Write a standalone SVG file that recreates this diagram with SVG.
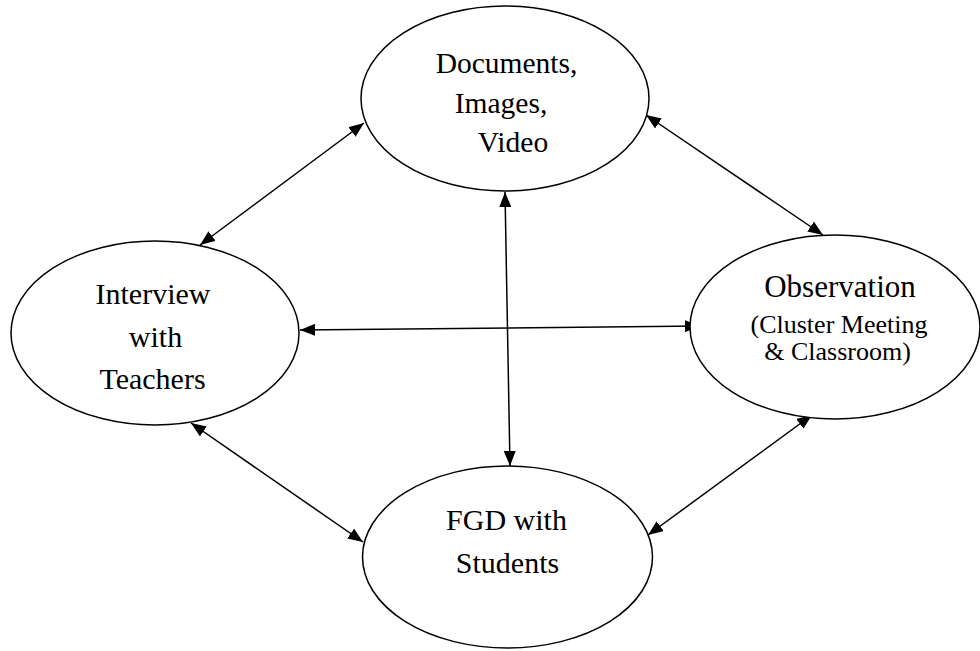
<svg xmlns="http://www.w3.org/2000/svg" width="980" height="651" viewBox="0 0 980 651">
<style>
.node ellipse{fill:#fff;stroke:#000;stroke-width:1.5}
.node text{font-family:"Liberation Serif","Times New Roman",serif;fill:#000;text-anchor:middle}
.big{font-size:30px}
.small{font-size:26px}
#connectors line{stroke:#000;stroke-width:1.5;marker-start:url(#ah);marker-end:url(#ah)}
</style>
<defs>
<marker id="ah" markerUnits="userSpaceOnUse" markerWidth="16" markerHeight="12" refX="15" refY="6" orient="auto-start-reverse" viewBox="0 0 16 12">
<path d="M0,0 L15,6 L0,12 z" fill="#000"/>
</marker>
</defs>
<rect width="980" height="651" fill="#fff"/>
<g id="connectors">
<line x1="364" y1="123" x2="200" y2="245"/>
<line x1="646" y1="115" x2="823" y2="235"/>
<line x1="191" y1="423" x2="363" y2="542"/>
<line x1="812" y1="415" x2="648" y2="535"/>
<line x1="300" y1="330" x2="700" y2="326"/>
<line x1="505" y1="192" x2="510" y2="466"/>
</g>
<g id="documents" class="node">
<ellipse cx="505" cy="98.5" rx="144" ry="92.5"/>
<text class="big" x="506.5" y="73" style="font-size:29.5px">Documents,</text>
<text class="big" x="501" y="112.5" style="font-size:29.5px">Images,</text>
<text class="big" x="513" y="152" style="font-size:29.5px">Video</text>
</g>
<g id="interview" class="node">
<ellipse cx="155" cy="333" rx="144" ry="92"/>
<text class="big" x="153" y="304">Interview</text>
<text class="big" x="155.5" y="346.5">with</text>
<text class="big" x="152.5" y="389">Teachers</text>
</g>
<g id="observation" class="node">
<ellipse cx="835" cy="327" rx="145" ry="92"/>
<text class="big" x="840" y="297" style="font-size:31px">Observation</text>
<text class="small" x="839" y="332.5">(Cluster Meeting</text>
<text class="small" x="837.5" y="360">&amp; Classroom)</text>
</g>
<g id="fgd" class="node">
<ellipse cx="507.5" cy="557" rx="145" ry="91"/>
<text class="big" x="506.5" y="529.5">FGD with</text>
<text class="big" x="507.5" y="572.5">Students</text>
</g>
</svg>
